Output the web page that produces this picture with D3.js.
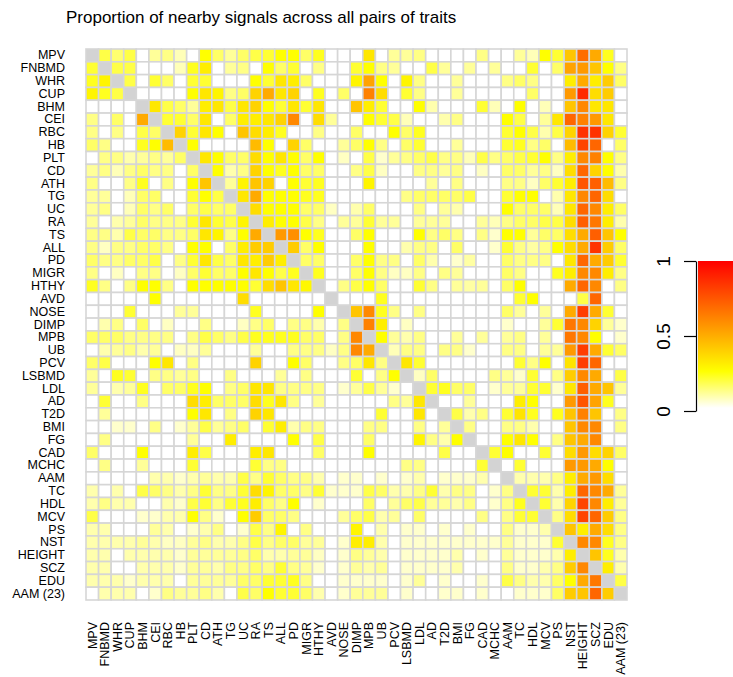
<!DOCTYPE html>
<html>
<head>
<meta charset="utf-8">
<script src="https://cdn.jsdelivr.net/npm/d3@7"></script>
<style>
  body { margin: 0; background: #fff; }
  svg text { font-family: "Liberation Sans", Arial, sans-serif; fill: #000; }
</style>
</head>
<body>
<div id="chart"></div>
<script>
var traits = ["MPV", "FNBMD", "WHR", "CUP", "BHM", "CEI", "RBC", "HB", "PLT", "CD", "ATH", "TG", "UC", "RA",
    "TS", "ALL", "PD", "MIGR", "HTHY", "AVD", "NOSE", "DIMP", "MPB", "UB", "PCV", "LSBMD", "LDL", "AD", "T2D",
    "BMI", "FG", "CAD", "MCHC", "AAM", "TC", "HDL", "MCV", "PS", "NST", "HEIGHT", "SCZ", "EDU", "AAM (23)"];

var legendTicks = [0, 0.5, 1];

// proportion of nearby signals, row trait vs column trait (null = diagonal)
var proportion = [
    [null,.18,.14,.18,0,.1,.12,.07,0,.25,.15,.1,.15,.18, .2,.25,.25,.15,.22,0,0,0,.32,0,.1,.1,.12,0,0, 0,0,.12,0,0,.1,.07,.25,.2,.42,.68,.5,.22,0],
    [.2,null,.18,.18,0,0,0,.07,.22,.3,0,.1,.12,0, .25,.15,.2,0,.12,0,0,.2,.25,.12,.1,0,0,.18,.1, 0,.1,0,.1,0,0,.2,0,.15,.52,.55,.42,.25,.12],
    [.22,.28,null,.18,0,.2,.15,0,.2,.2,0,0,0,.25, .2,.32,.3,.15,0,0,0,.28,.52,.25,0,.28,.12,0,0, .1,0,0,0,.12,.15,.12,0,0,.3,.5,.3,.4,.15],
    [.28,.22,.18,null,0,0,0,0,.25,.32,.28,.12,.15,.38, .5,.32,.38,0,.22,0,.15,0,.62,.35,0,.2,.12,0,0, .1,0,0,0,0,0,.15,0,0,.55,.88,.35,.4,0],
    [0,0,0,0,null,.32,.18,.15,.1,.3,.32,.18,.32,.38, .25,.2,.32,.2,.32,0,0,.42,.3,.2,0,0,.25,.08,0, 0,0,.2,.07,0,.25,0,.07,0,.42,.6,.32,.32,0],
    [.12,0,.15,0,.5,null,.2,.2,.15,.32,0,.15,.3,.3, .32,.38,.6,0,.35,.1,0,0,.25,.2,.18,.07,0,0,.08, .12,0,0,0,.25,.18,0,.1,.32,.7,.62,.55,.32,0],
    [.12,0,.12,0,.18,.15,null,.38,.2,.32,.25,0,.42,.35, .3,.22,0,0,.12,0,0,.15,0,0,.25,.15,.22,0,0, 0,0,0,0,.2,.25,.18,.08,.18,.38,.85,.85,.38,.2],
    [.15,.12,0,0,.22,.25,.45,null,.25,0,0,0,0,.45, .25,0,.38,.15,0,0,.1,.15,.25,.12,0,.15,.2,0,0, .1,0,0,0,.2,.22,.12,.15,0,.45,.8,.7,0,.15],
    [0,.12,.12,.08,.1,.12,.1,.15,null,.32,.25,.15,.15,.35, .25,.32,.25,.15,.25,0,.06,0,.18,.05,.1,.12,.15,.18,.12, .12,.07,.18,.12,.15,.18,.2,.25,.12,.3,.6,.62,.25,.12],
    [.1,.12,.07,.12,.15,.12,.12,0,.15,null,.25,.08,.12,.38, .25,.22,.25,.15,.15,0,0,.12,.18,.06,0,0,.12,.12,.1, .12,0,.06,0,.15,.15,.1,.12,.06,.35,.7,.38,.25,.08],
    [.12,0,0,.12,.22,0,.12,0,.25,.42,null,.1,.28,.42, .38,0,.25,.2,.22,0,0,0,.28,0,0,0,0,.1,0, .12,0,0,0,.12,.12,.06,.15,.2,.3,.75,.72,.45,.12],
    [.1,.1,0,.07,.15,.15,0,0,.2,.25,.18,null,.32,.5, .25,.25,.25,.22,.22,0,0,0,0,0,0,.12,.15,.15,.15, .15,.18,0,0,.2,.25,.25,0,.08,.32,.6,.7,.35,0],
    [.1,.12,0,.07,.15,.12,.15,0,.15,.18,.15,.15,null,.35, .25,.25,.25,.15,.15,.06,0,.08,.15,0,0,0,.12,0,.1, .08,0,0,0,.25,.15,.15,.15,.07,.32,.7,.6,.3,.15],
    [.1,0,.08,.1,.15,.12,.12,.12,.2,.32,.2,.18,.28,null, .3,.25,.25,.18,.12,0,.1,.1,.2,.1,.1,0,.1,.1,.1, 0,0,.1,.07,.12,.15,.15,.18,.18,.35,.72,.65,.3,.08],
    [.12,.12,.08,.18,.15,.15,.12,.12,.15,.32,.28,.12,.25,.5, null,.55,.58,.25,.22,0,0,.15,.25,0,0,0,.25,.12,.15, .12,0,.12,.05,.25,.25,.1,.15,.15,.35,.5,.72,.42,.25],
    [.12,.06,.12,.12,.15,.15,.12,0,.25,.25,0,.15,.3,.4, .4,null,.4,.15,.25,0,0,0,.25,0,0,.08,.12,.12,0, .15,0,0,.05,.2,.12,.09,.12,.25,.35,.5,.85,.4,.15],
    [.15,.12,.12,.15,.15,.18,0,.12,.2,.32,.18,.15,.32,.3, .4,.3,null,.15,.15,0,0,.15,.25,.12,.12,0,.15,.08,0, .05,.09,0,0,.15,.12,.12,.12,0,.32,.7,.5,.4,.2],
    [.12,0,.06,0,.12,.12,0,.06,.15,.2,.15,.15,.25,.32, .25,.18,.22,null,.22,0,0,.15,.25,.12,.06,.06,.12,0,.12, .1,0,0,0,.15,.12,0,0,.22,.3,.6,.6,.3,.12],
    [.22,.12,0,.12,.25,.25,.12,0,.25,.25,.25,.25,.25,.2, .35,.42,.32,.27,null,0,.12,.18,.25,.15,0,0,.2,.12,0, .1,.09,.1,0,.15,.25,0,0,0,.5,.7,.6,0,.12],
    [0,0,0,0,0,.25,0,0,0,0,0,0,.35,0, 0,0,0,0,0,null,0,0,0,.22,0,0,0,0,0, 0,0,0,0,0,.2,.25,0,0,0,.18,.7,0,0],
    [0,0,0,.2,0,0,0,.1,.1,0,0,0,0,.22, 0,0,0,0,.25,0,null,.42,.6,.22,.12,0,.12,0,0, 0,0,0,0,.15,.1,0,.1,0,.5,.82,.5,.2,0],
    [0,.08,.12,0,.15,0,.06,0,0,.12,0,0,.06,.12, .15,0,.12,.12,.08,0,.12,null,.62,.3,0,.06,0,0,0, 0,0,0,0,.05,0,0,.1,.2,.65,.6,.38,.1,.05],
    [.15,.15,.15,.12,.12,.12,.12,0,.12,.18,.15,.12,.18,.22, .22,.22,.22,.15,.15,0,.12,.6,null,.25,.1,.08,.12,0,0, .1,0,.1,0,.1,.12,0,.1,0,.65,.6,.25,0,.05],
    [0,.08,.1,.12,.08,.1,0,.06,.06,.1,0,0,0,.1, 0,0,.12,.12,.12,.06,.12,.6,.5,null,.07,.12,.12,0,.12, .12,.05,0,0,.12,.12,0,.1,.1,.55,.82,.5,.2,.15],
    [.15,.18,0,0,0,.25,.32,0,.12,0,0,0,0,.38, 0,0,.25,.15,0,0,.12,.15,.32,.12,null,.32,.2,0,0, 0,0,0,0,0,.2,.12,.25,0,.33,.82,.7,0,0],
    [.1,0,.22,.2,0,.12,.12,.1,.12,0,0,.12,0,0, 0,.1,0,.12,0,0,0,.2,0,.12,.25,null,.06,.15,0, 0,0,0,.12,.1,.05,.2,0,.12,.4,.6,.5,0,.18],
    [.1,0,.08,.1,.22,0,.15,.15,.22,.25,0,.12,.15,.32, .32,.12,.12,.12,.12,0,.05,.1,.18,.1,.05,0,null,.2,.22, .15,.15,0,.05,.1,.1,.2,.2,.05,.32,.72,.5,.42,.1],
    [0,.2,0,0,.12,0,0,0,.35,.3,.15,.15,.15,.35, .22,.32,.12,0,.1,0,0,0,0,0,.12,.1,.32,null,0, 0,.1,0,0,0,.3,.25,0,0,.55,.75,.52,.22,0],
    [0,.1,0,0,0,0,0,0,.25,.32,0,.12,0,.38, .32,0,0,0,0,0,0,0,0,.2,0,0,.32,0,null, .18,.08,.12,0,.2,.33,.22,0,.22,.42,.62,.42,0,.12],
    [0,0,.05,.05,0,.12,0,.05,.1,.18,.1,.12,.15,0, .2,.3,.08,.12,.12,0,0,0,.12,.12,0,0,.12,0,.1, null,.12,0,0,.12,.12,.08,0,0,.42,.6,.6,0,.12],
    [0,.12,0,0,0,0,0,0,.1,0,0,.3,0,0, 0,0,.25,0,.18,0,0,0,.15,0,0,0,.28,.12,.08, .25,null,0,0,.25,.32,.25,0,.12,.42,.5,.6,0,0],
    [.15,0,0,0,.25,0,0,0,.3,.18,0,0,0,.3, .32,0,0,0,.15,0,0,0,.25,0,0,0,0,0,.18, 0,0,null,.2,.25,0,0,.2,0,.35,.55,.35,.38,.15],
    [0,.12,0,0,.1,0,0,0,.2,0,0,0,0,.2, .12,.12,0,0,0,0,0,0,0,0,0,.12,.12,0,0, 0,0,.2,null,0,.2,0,0,0,.55,.55,.5,.25,0],
    [0,0,0,0,0,.08,.08,.05,.08,.1,.08,.08,.18,.12, .2,.15,.12,.12,.08,0,.05,.05,0,.05,0,.05,.08,0,.05, .05,.05,.08,0,null,.08,.08,.08,.12,.3,.5,.55,.35,0],
    [.08,0,.08,0,.18,.15,.12,.08,.12,.2,.12,.12,.2,.35, .28,.15,.15,.12,.2,.05,.05,.05,.18,.15,.08,.08,.12,.2,.08, .12,.12,0,.05,.12,null,.2,.2,.08,.3,.7,.6,.5,.1],
    [.08,.12,.08,.08,0,0,.08,.05,.18,.2,.12,.2,.22,.3, .15,.12,.25,0,.05,0,0,0,.15,0,.1,.15,.18,.1,.1, .08,.12,0,.05,.12,.22,null,.2,.08,.38,.8,.6,.3,.1],
    [.18,0,0,0,.05,.05,.08,.08,.25,.12,.05,0,.25,.4, .15,.15,.12,0,0,0,.1,.15,.18,.08,.1,0,.15,0,0, 0,0,.12,0,.12,.2,.2,null,.12,.35,.8,.7,.4,.12],
    [.08,.08,0,0,0,.1,.08,0,.05,.08,.12,0,.05,.18, .12,.28,0,.12,0,0,0,.28,0,.08,0,.05,.05,0,.05, 0,.05,0,0,.12,.05,.05,.08,null,.42,.3,.5,.35,.12],
    [.08,.08,.08,.08,.1,.08,.06,.06,.1,.12,.08,.08,.12,.18, .12,.15,.15,.1,.1,0,.05,.3,.3,.08,0,.05,.05,.05,.05, .05,.05,.05,.05,.1,.05,.05,.05,.2,null,.6,.6,.22,.12],
    [.08,.08,0,.08,.08,.08,.08,.05,.1,.1,.1,.1,.12,.15, .08,.08,.1,.1,.06,0,.05,.12,.1,.08,0,.05,.05,.05,.05, .08,0,.05,0,.1,.05,.05,.05,.08,.3,null,.42,.22,.08],
    [.08,.08,0,0,.08,.08,.08,.05,.1,.1,.08,.12,.12,.15, .12,.2,.12,.1,.05,0,.05,.1,.08,.1,0,.05,.05,.05,.05, .08,0,0,0,.12,.05,.05,.08,.12,.4,.6,null,.3,.08],
    [.08,.08,.08,.05,.08,.08,.08,0,.1,.1,.1,.1,.15,.15, .2,.2,.22,.12,0,0,.05,.05,.05,.05,0,.05,.1,0,.05, 0,0,.05,0,.18,.12,.08,.08,.15,.25,.5,.65,null,.18],
    [0,.08,.08,.08,0,.05,.12,.1,.1,.12,.08,0,.18,.15, .25,.2,.2,.15,.08,0,.05,.1,.1,.1,0,.05,0,0,.05, .05,0,.05,0,0,.05,.05,.05,.15,.4,.42,.7,.4,null]
];

var width = 733, height = 677;
var grid = { left: 86, right: 627, top: 49, bottom: 600 };

var svg = d3.select("#chart").append("svg")
    .attr("width", width)
    .attr("height", height);

var x = d3.scaleBand().domain(traits).range([grid.left, grid.right]);
var y = d3.scaleBand().domain(traits).range([grid.top, grid.bottom]);

// white -> yellow -> red, like heat.colors reversed
var color = d3.scaleLinear()
    .domain([0, 0.25, 1])
    .range(["#ffffff", "#ffff00", "#ff0000"])
    .clamp(true);

var cells = [];
proportion.forEach(function (row, i) {
    row.forEach(function (v, j) {
        cells.push({ row: traits[i], col: traits[j], value: v });
    });
});

svg.append("g")
    .selectAll("rect")
    .data(cells)
    .enter().append("rect")
    .attr("x", function (d) { return x(d.col); })
    .attr("y", function (d) { return y(d.row); })
    .attr("width", x.bandwidth())
    .attr("height", y.bandwidth())
    .attr("fill", function (d) { return d.value === null ? "#d3d3d3" : color(d.value); })
    .attr("stroke", "#d6d6d6")
    .attr("stroke-width", 1.6);

// row labels
var yAxis = svg.append("g")
    .attr("transform", "translate(" + grid.left + ",0)")
    .call(d3.axisLeft(y).tickSize(0).tickPadding(21));
yAxis.select(".domain").remove();
yAxis.selectAll("text")
    .style("font-size", "12.5px")
    .style("font-family", "Liberation Sans, Arial, sans-serif");

// column labels, vertical
var xAxis = svg.append("g")
    .attr("transform", "translate(0," + grid.bottom + ")")
    .call(d3.axisBottom(x).tickSize(0));
xAxis.select(".domain").remove();
xAxis.selectAll("text")
    .attr("transform", "rotate(-90)")
    .attr("x", -22)
    .attr("y", 0)
    .attr("dy", "0.35em")
    .attr("text-anchor", "end")
    .style("font-size", "12.5px")
    .style("font-family", "Liberation Sans, Arial, sans-serif");

svg.append("text")
    .attr("x", 66)
    .attr("y", 23)
    .style("font-size", "17px")
    .text("Proportion of nearby signals across all pairs of traits");

// colour key
var ly = d3.scaleLinear().domain([0, 1]).range([411, 261]);

var grad = svg.append("defs").append("linearGradient")
    .attr("id", "heat")
    .attr("x1", 0).attr("y1", 1)
    .attr("x2", 0).attr("y2", 0);
[0, 0.25, 1].forEach(function (s) {
    grad.append("stop")
        .attr("offset", s)
        .attr("stop-color", color(s));
});

svg.append("rect")
    .attr("x", 698)
    .attr("y", ly(1))
    .attr("width", 40)
    .attr("height", ly(0) - ly(1) - 3)
    .attr("fill", "url(#heat)");

var lAxis = svg.append("g")
    .attr("transform", "translate(696,0)")
    .call(d3.axisLeft(ly).tickValues(legendTicks).tickSize(12).tickSizeOuter(0).tickFormat(d3.format("")));
lAxis.selectAll("line, path").attr("stroke", "#000").attr("stroke-width", 1.2);
lAxis.selectAll("text")
    .attr("x", null)
    .attr("dy", null)
    .attr("text-anchor", "middle")
    .attr("transform", "translate(-26,0) rotate(-90)")
    .style("font-size", "19px")
    .style("font-family", "Liberation Sans, Arial, sans-serif");
</script>
</body>
</html>
